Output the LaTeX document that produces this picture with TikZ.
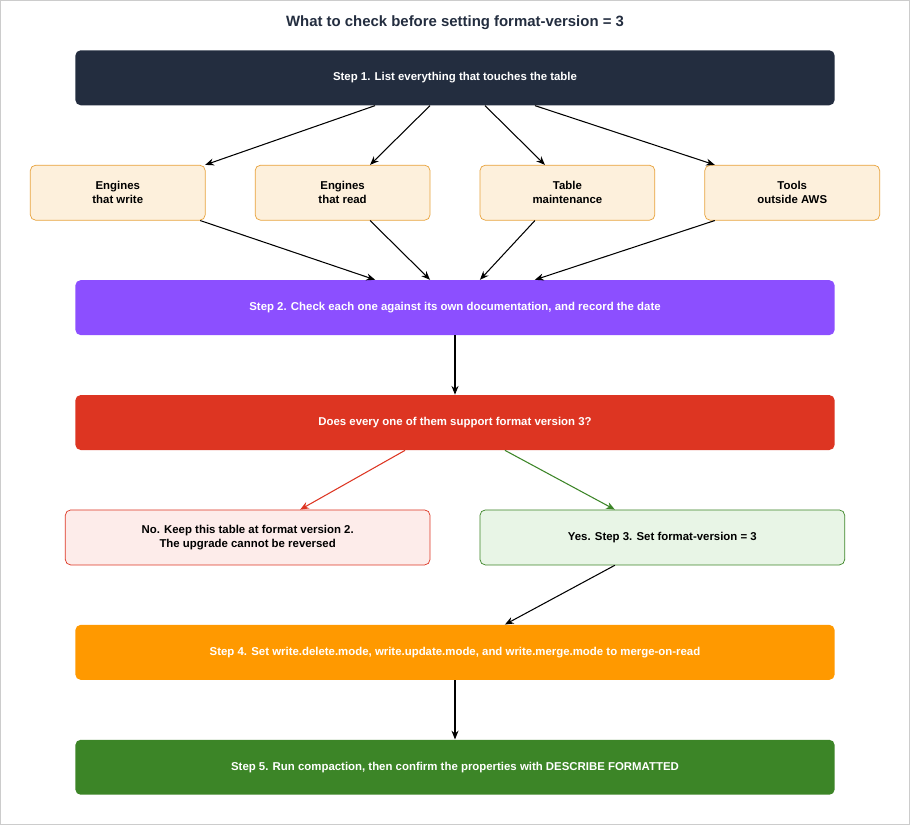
\documentclass[tikz,border=0pt]{standalone}
\usepackage{fontspec}
\setmainfont{Liberation Sans}
\usetikzlibrary{arrows, arrows.meta}
\definecolor{navy}{HTML}{232D3F}
\definecolor{purp}{HTML}{8C4FFF}
\definecolor{redd}{HTML}{DD3522}
\definecolor{oran}{HTML}{FF9900}
\definecolor{grn}{HTML}{3C8527}
\definecolor{tanfill}{HTML}{FDF0DC}
\definecolor{tanline}{HTML}{E8A33D}
\definecolor{nofill}{HTML}{FDECEA}
\definecolor{yesfill}{HTML}{E8F5E6}
\tikzset{
  bar/.style={rounded corners=3pt, minimum width=15.2cm, minimum height=1.1cm, text=white, font=\fontsize{6.5}{8}\selectfont\bfseries, align=center},
  eng/.style={rounded corners=3pt, draw=tanline, fill=tanfill, minimum width=3.5cm, minimum height=1.1cm, font=\fontsize{6.5}{8}\selectfont\bfseries, align=center},
  ans/.style={rounded corners=3pt, minimum width=7.3cm, minimum height=1.1cm, font=\fontsize{6.5}{8}\selectfont\bfseries, align=center},
  arr/.style={-{Stealth[length=5pt,width=4pt]}, semithick}
}
\begin{document}
\begin{tikzpicture}[x=0.02cm,y=-0.02cm]
\draw[gray!40,fill=white] (0,0) rectangle (910,825);
\node[font=\fontsize{8.5}{10}\selectfont\bfseries, text=navy] (title) at (455,22) {What to check before setting format-version = 3};
\node[bar, fill=navy] (s1) at (455,77.5) {Step 1. List everything that touches the table};
\node[eng] (e1) at (117.5,192.5) {Engines\\that write};
\node[eng] (e2) at (342.5,192.5) {Engines\\that read};
\node[eng] (e3) at (567.5,192.5) {Table\\maintenance};
\node[eng] (e4) at (792.5,192.5) {Tools\\outside AWS};
\node[bar, fill=purp] (s2) at (455,307.5) {Step 2. Check each one against its own documentation, and record the date};
\node[bar, fill=redd] (q) at (455,422.5) {Does every one of them support format version 3?};
\node[ans, draw=redd, fill=nofill] (no) at (247.5,537.5) {No. Keep this table at format version 2.\\The upgrade cannot be reversed};
\node[ans, draw=grn, fill=yesfill] (yes) at (662.5,537.5) {Yes. Step 3. Set format-version = 3};
\node[bar, fill=oran] (s4) at (455,652.5) {Step 4. Set write.delete.mode, write.update.mode, and write.merge.mode to merge-on-read};
\node[bar, fill=grn] (s5) at (455,767.5) {Step 5. Run compaction, then confirm the properties with DESCRIBE FORMATTED};
% fan out
\draw[arr] ([xshift=-1.6cm]s1.south) -- ([xshift=1.75cm]e1.north);
\draw[arr] ([xshift=-0.5cm]s1.south) -- ([xshift=0.55cm]e2.north);
\draw[arr] ([xshift=0.6cm]s1.south) -- ([xshift=-0.45cm]e3.north);
\draw[arr] ([xshift=1.6cm]s1.south) -- ([xshift=-1.55cm]e4.north);
% fan in
\draw[arr] ([xshift=1.65cm]e1.south) -- ([xshift=-1.6cm]s2.north);
\draw[arr] ([xshift=0.55cm]e2.south) -- ([xshift=-0.5cm]s2.north);
\draw[arr] ([xshift=-0.65cm]e3.south) -- ([xshift=0.5cm]s2.north);
\draw[arr] ([xshift=-1.55cm]e4.south) -- ([xshift=1.6cm]s2.north);
\draw[arr] (s2) -- (q);
\draw[arr, redd] ([xshift=-1.0cm]q.south) -- ([xshift=1.05cm]no.north);
\draw[arr, grn] ([xshift=1.0cm]q.south) -- ([xshift=-0.95cm]yes.north);
\draw[arr] ([xshift=-0.95cm]yes.south) -- ([xshift=1.0cm]s4.north);
\draw[arr] (s4) -- (s5);
\end{tikzpicture}
\end{document}
